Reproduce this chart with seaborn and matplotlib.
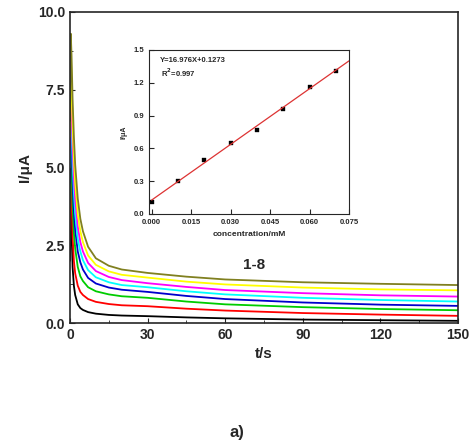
import matplotlib
matplotlib.use("Agg")
import matplotlib.pyplot as plt
import seaborn as sns
import numpy as np
import pandas as pd

sns.set_style("ticks")
plt.rcParams['font.family'] = ['Liberation Sans', 'DejaVu Sans']
plt.rcParams['font.weight'] = 'bold'

t = [0.0, 0.3, 0.6, 1.0, 1.5, 2, 3, 4, 5, 7, 10, 15, 20, 30, 45, 60, 90, 120, 150]
curves = {
    "1": [2.0, 4.5, 3.0, 1.8, 1.2, 0.9, 0.6, 0.48, 0.42, 0.35, 0.30, 0.26, 0.24, 0.22, 0.18, 0.15, 0.11, 0.09, 0.07],
    "2": [3.0, 5.5, 4.2, 2.8, 2.0, 1.6, 1.2, 1.0, 0.9, 0.77, 0.68, 0.61, 0.57, 0.54, 0.46, 0.40, 0.32, 0.27, 0.23],
    "3": [4.0, 6.5, 5.2, 3.8, 2.9, 2.4, 1.8, 1.5, 1.35, 1.15, 1.02, 0.92, 0.86, 0.81, 0.69, 0.60, 0.51, 0.45, 0.41],
    "4": [4.5, 7.2, 6.0, 4.6, 3.6, 3.0, 2.3, 1.95, 1.72, 1.45, 1.27, 1.14, 1.07, 1.00, 0.87, 0.77, 0.66, 0.59, 0.55],
    "5": [5.0, 7.8, 6.6, 5.2, 4.2, 3.5, 2.7, 2.3, 2.02, 1.70, 1.47, 1.31, 1.22, 1.15, 1.02, 0.92, 0.81, 0.74, 0.69],
    "6": [5.5, 8.3, 7.2, 5.8, 4.7, 4.0, 3.1, 2.6, 2.3, 1.93, 1.67, 1.48, 1.38, 1.28, 1.16, 1.06, 0.96, 0.89, 0.85],
    "7": [6.0, 8.8, 7.8, 6.4, 5.3, 4.5, 3.5, 2.95, 2.6, 2.17, 1.87, 1.66, 1.55, 1.46, 1.33, 1.24, 1.14, 1.08, 1.05],
    "8": [6.5, 9.3, 8.6, 7.2, 6.0, 5.1, 4.0, 3.35, 2.95, 2.45, 2.08, 1.84, 1.72, 1.61, 1.49, 1.40, 1.31, 1.26, 1.22],
}
colors = ["black", "red", "#00cc00", "#0000cc", "cyan", "magenta", "yellow", "#808020"]

conc = [0.0, 0.01, 0.02, 0.03, 0.04, 0.05, 0.06, 0.07]
cur = [0.11, 0.30, 0.49, 0.65, 0.77, 0.96, 1.16, 1.31]
slope, intercept = 16.976, 0.1273

fig = plt.figure(figsize=(4.74, 4.48), dpi=100)
ax = fig.add_axes([70/474, 1-323/448, 388/474, 311/448])
for (k, v), c in zip(curves.items(), colors):
    df = pd.DataFrame({"t": t, "i": v})
    sns.lineplot(data=df, x="t", y="i", color=c, lw=1.3, ax=ax)
ax.set_xlim(0, 150); ax.set_ylim(0, 10)
ax.set_xticks([0, 30, 60, 90, 120, 150])
ax.set_yticks([0, 2.5, 5.0, 7.5, 10.0])
ax.set_yticklabels(["0.0", "2.5", "5.0", "7.5", "10.0"])
ax.set_xticks(np.arange(15, 150, 30), minor=True)
ax.set_yticks(np.arange(1.25, 10, 2.5), minor=True)
ax.tick_params(direction="in", which="both", labelsize=10, top=False, right=False)
ax.tick_params(which="minor", length=2)
for s in ax.spines.values():
    s.set_visible(True); s.set_linewidth(1.2)
ax.set_xlabel("t/s", fontsize=11, fontweight="bold")
ax.set_ylabel("I/\u03bcA", fontsize=11, fontweight="bold")
ax.text(71, 1.85, "1-8", fontsize=11, fontweight="bold", ha="center", va="center")

ins = fig.add_axes([149/474, 1-214/448, 200/474, 164/448])
sns.scatterplot(x=conc, y=cur, marker="s", color="black", s=10, edgecolor="black", ax=ins)
xf = np.array([0.0, 0.075])
sns.lineplot(x=xf, y=slope*xf+intercept, color="#dd3333", lw=0.9, ax=ins)
ins.set_xlim(-0.001, 0.075); ins.set_ylim(0, 1.5)
ins.set_xticks([0, 0.015, 0.03, 0.045, 0.06, 0.075])
ins.set_xticklabels(["0.000", "0.015", "0.030", "0.045", "0.060", "0.075"])
ins.set_yticks([0, 0.3, 0.6, 0.9, 1.2, 1.5])
ins.tick_params(direction="in", labelsize=5.5, top=False, right=False)
for s in ins.spines.values():
    s.set_visible(True); s.set_linewidth(0.8)
ins.set_xlabel("concentration/mM", fontsize=6, fontweight="bold")
ins.set_ylabel("I/\u03bcA", fontsize=5, fontweight="bold")
ins.text(0.003, 1.40, "Y=16.976X+0.1273", fontsize=5.5, fontweight="bold", va="center")
ins.text(0.0035, 1.29, "R$^2$=0.997", fontsize=5.5, fontweight="bold", va="center")

fig.text(237/474, 1-432/448, "a)", fontsize=12, fontweight="bold", ha="center", va="center")
fig.savefig("out.png", dpi=100)
